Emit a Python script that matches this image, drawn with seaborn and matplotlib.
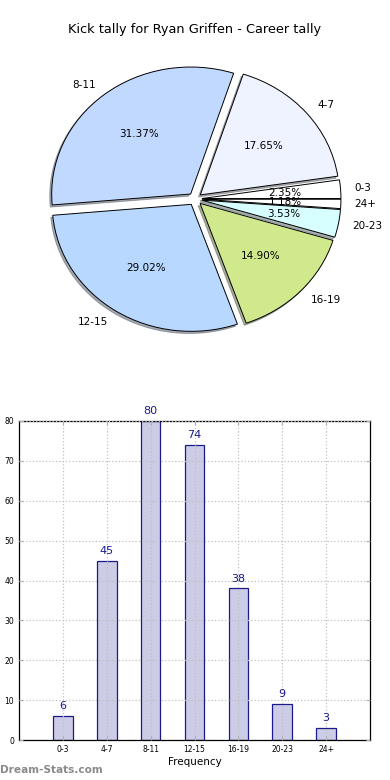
import matplotlib as mpl
mpl.use("Agg")
import matplotlib.pyplot as plt
import pandas as pd
import seaborn as sns

title = "Kick tally for Ryan Griffen - Career tally"
categories = ["0-3", "4-7", "8-11", "12-15", "16-19", "20-23", "24+"]
counts = [6, 45, 80, 74, 38, 9, 3]
pie_colors = ["#ffffff", "#eef3ff", "#c2d9ff", "#b8d8ff", "#d0e98c", "#d8ffff", "#ffffff"]

df = pd.DataFrame({"range": categories, "count": counts})

fig = plt.figure(figsize=(3.9, 7.8), dpi=100)

# pie on top (not equal aspect, slightly wider than tall like the original)
ax1 = fig.add_axes([0, 421 / 780, 1, 320 / 780])
ax1.pie(df["count"], labels=df["range"], colors=pie_colors, autopct="%.2f%%",
        explode=[0.05] * len(counts), shadow={"ox": -0.01, "oy": -0.012, "shade": 0.6},
        startangle=0,
        wedgeprops={"edgecolor": "black", "linewidth": 0.7},
        textprops={"fontsize": 7.5})
ax1.set_aspect("auto")
ax1.set_xlim(-195 / 139, 195 / 139)
ax1.set_ylim(-160 / 127, 160 / 127)
ax1.axis("off")
fig.text(0.5, 1 - 30 / 780, title, ha="center", va="center", fontsize=9.3)

# bar chart below
ax2 = fig.add_axes([19 / 390, 40 / 780, 351 / 390, 319 / 780])
sns.barplot(data=df, x="range", y="count", ax=ax2, width=0.45,
            color="#ccccE6", edgecolor="#1a1a8c", linewidth=0.9, saturation=1)
ax2.set_xlim(-1, 7)
ax2.set_ylim(0, 80)
ax2.set_yticks(range(0, 81, 10))
ax2.grid(True, linestyle=":", color="#c0c0c0", linewidth=0.9)
ax2.set_axisbelow(False)
ax2.tick_params(labelsize=5.5, direction="in", top=True, right=True, length=3, color="#b0b0b0")
ax2.set_ylabel("")
ax2.set_xlabel("Frequency", fontsize=7.5, labelpad=2)
for i, v in enumerate(counts):
    ax2.text(i, v + 1.2, str(v), ha="center", va="bottom", fontsize=8, color="#1a1a8c")
for s in ax2.spines.values():
    s.set_linewidth(0.9)

fig.text(0.0, 1 - 770 / 780, "Dream-Stats.com", ha="left", va="center", fontsize=7.6,
         color="#8a8a8a", fontweight="semibold")

plt.savefig("out.png", dpi=100)
plt.close()
